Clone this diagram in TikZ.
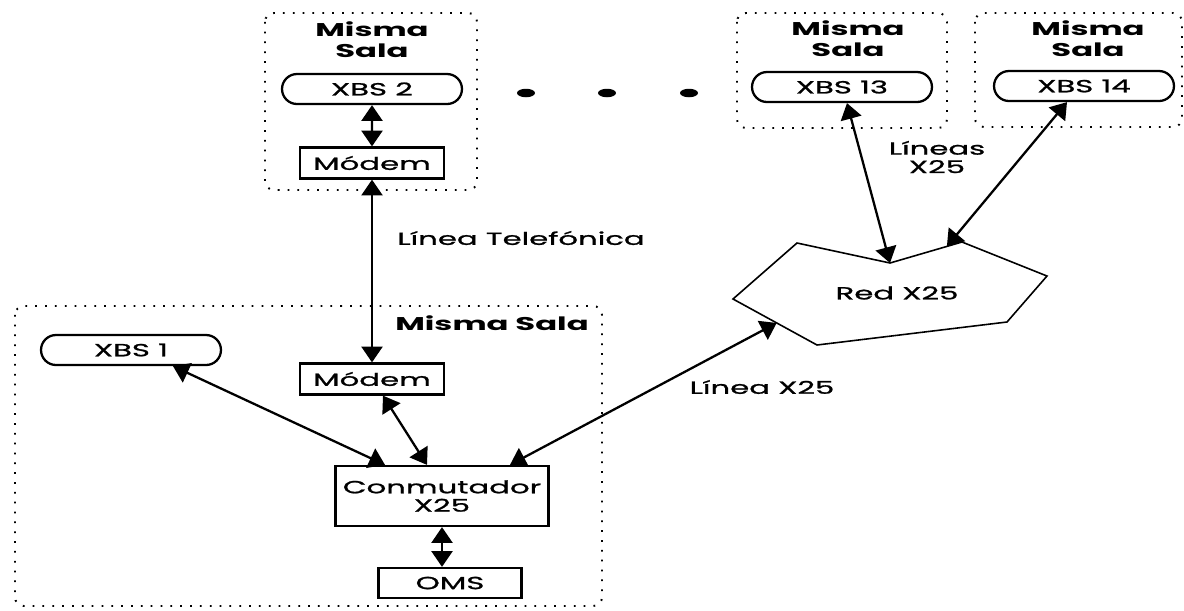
\documentclass[tikz,border=0pt]{standalone}
\usepackage{fontspec}
\setmainfont{Poppins}[FakeStretch=1.75, UprightFeatures={FakeBold=1.2}]
\usetikzlibrary{shapes.misc,arrows.meta,calc,positioning}

\tikzset{
	sala/.style={draw, line width=1.1pt, rounded corners=5pt, dash pattern=on 1pt off 4.6pt},
	xbs/.style={draw, line width=1.3pt, rounded rectangle, minimum width=3.6cm, minimum height=0.6cm, inner sep=0pt},
	caja/.style={draw, line width=1.3pt, align=center, minimum width=2.88cm, minimum height=0.62cm, inner sep=0pt},
	enlace/.style={{Triangle[length=9pt,width=12pt]}-{Triangle[length=9pt,width=12pt]}, line width=1.3pt},
	titulo/.style={font=\bfseries\fontsize{10.5}{12}\selectfont, align=center, inner sep=0pt},
	etiqueta/.style={align=center, inner sep=0pt},
}

\begin{document}
\begin{tikzpicture}[x=0.02cm, y=-0.02cm, font=\fontsize{10}{10.5}\selectfont]
	\useasboundingbox (0,0) rectangle (1184,610);

	% salas
	\draw[sala] (265,13) rectangle (477,190);
	\draw[sala] (737,13) rectangle (947,128);
	\draw[sala] (975,13) rectangle (1182,127);
	\draw[sala] (15,306) rectangle (602,606);

	\node[titulo] (sala2) at (372,40) {Misma\\Sala};
	\node[titulo] (sala13) at (848,39) {Misma\\Sala};
	\node[titulo] (sala14) at (1088,39) {Misma\\Sala};
	\node[titulo] (sala1) at (492,323) {Misma Sala};

	% equipos
	\node[xbs] (xbs2) at (372,89) {XBS 2};
	\node[caja] (modem1) at (372,163) {Módem};
	\node[xbs] (xbs13) at (842,87) {XBS 13};
	\node[xbs] (xbs14) at (1084,86) {XBS 14};
	\node[xbs] (xbs1) at (131,350) {XBS 1};
	\node[caja] (modem2) at (372,379) {Módem};
	\node[caja, minimum width=4.26cm, minimum height=1.2cm] (conm) at (442,496) {Conmutador\\X25};
	\node[caja, minimum width=2.86cm, minimum height=0.6cm] (oms) at (450,583) {OMS};

	% red X25
	\coordinate (r1) at (797,243);
	\coordinate (r2) at (890,263);
	\coordinate (r3) at (962,242);
	\coordinate (r4) at (1047,276);
	\coordinate (r5) at (1007,322);
	\coordinate (r6) at (817,345);
	\coordinate (r7) at (733,299);
	\draw[line width=0.9pt] (r1) -- (r2) -- (r3) -- (r4) -- (r5) -- (r6) -- (r7) -- cycle;
	\node (red) at (897,293) {Red X25};

	% puntos
	\fill (526,93) ellipse [x radius=0.18cm, y radius=0.085cm];
	\fill (607,93) ellipse [x radius=0.18cm, y radius=0.085cm];
	\fill (689,93) ellipse [x radius=0.18cm, y radius=0.085cm];

	% enlaces
	\draw[enlace] (xbs2) -- (modem1);
	\draw[enlace] (modem1) -- (modem2);
	\draw[enlace] ([xshift=0.84cm]xbs1.south) -- ([xshift=-1.14cm]conm.north);
	\draw[enlace] ([xshift=0.22cm]modem2.south) -- ([xshift=-0.3cm]conm.north);
	\draw[enlace] ([xshift=1.36cm]conm.north) -- ($(r7)!0.52!(r6)$);
	\draw[enlace] (conm.south) -- (conm.south |- oms.north);
	\draw[enlace] ([xshift=0.1cm]xbs13.south) -- (r2);
	\draw[enlace] ([xshift=-0.34cm]xbs14.south) -- ($(r2)!0.79!(r3)$);

	\node[etiqueta, anchor=west] (telefono) at (397,238) {Línea Telefónica};
	\node[etiqueta] (lineas) at (937,157) {Líneas\\X25};
	\node[etiqueta] (lineax25) at (762,387) {Línea X25};
\end{tikzpicture}
\end{document}
